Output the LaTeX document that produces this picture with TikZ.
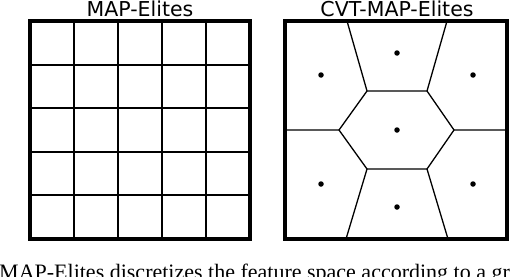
\documentclass[tikz,border=0pt]{standalone}
\usepackage{fontspec}
\setmainfont{Liberation Serif}
\newfontfamily\titlefont{DejaVu Sans}
\begin{document}
\begin{tikzpicture}[x=1pt,y=-1pt,
  outerbox/.style={line width=3.5pt},
  gridline/.style={line width=2pt},
  vorline/.style={line width=1.3pt},
  seed/.style={circle,fill=black,inner sep=0pt,minimum size=5.5pt},
  ttl/.style={font=\titlefont\fontsize{20.5}{24}\selectfont,inner sep=0pt}]
\useasboundingbox (0,0) rectangle (510,276);
\clip (0,0) rectangle (510,276);
% titles
\node[ttl,anchor=base] (t1) at (140,16.5) {MAP-Elites};
\node[ttl,anchor=base] (t2) at (397,16.5) {CVT-MAP-Elites};
% left grid
\foreach \x in {74,118,162,206} \draw[gridline] (\x,21) -- (\x,239);
\foreach \y in {64.6,108.2,151.8,195.4} \draw[gridline] (30,\y) -- (250,\y);
\draw[outerbox] (30,21) rectangle (250,239);
% right voronoi
\coordinate (a) at (347,21);
\coordinate (b) at (447,21);
\coordinate (c) at (367,91);
\coordinate (d) at (427,91);
\coordinate (e) at (339,130);
\coordinate (f) at (454,130);
\coordinate (g) at (367,169);
\coordinate (h) at (427,169);
\coordinate (i) at (346,239);
\coordinate (j) at (448,239);
\coordinate (l) at (285,130);
\coordinate (r) at (507,130);
\draw[vorline] (a) -- (c) -- (d) -- (b);
\draw[vorline] (l) -- (e) -- (c);
\draw[vorline] (d) -- (f) -- (r);
\draw[vorline] (e) -- (g) -- (h) -- (f);
\draw[vorline] (g) -- (i);
\draw[vorline] (h) -- (j);
\draw[outerbox] (285,21) rectangle (507,239);
\node[seed] (s1) at (397,53) {};
\node[seed] (s2) at (321,75) {};
\node[seed] (s3) at (473,75) {};
\node[seed] (s4) at (397,130) {};
\node[seed] (s5) at (321,184) {};
\node[seed] (s6) at (473,184) {};
\node[seed] (s7) at (397,207) {};
% clipped caption
\node[anchor=base west,inner sep=0pt,font=\fontsize{22}{26}\selectfont] (cap) at (-1,279) {MAP-Elites discretizes the feature space according to a grid};
\end{tikzpicture}
\end{document}
